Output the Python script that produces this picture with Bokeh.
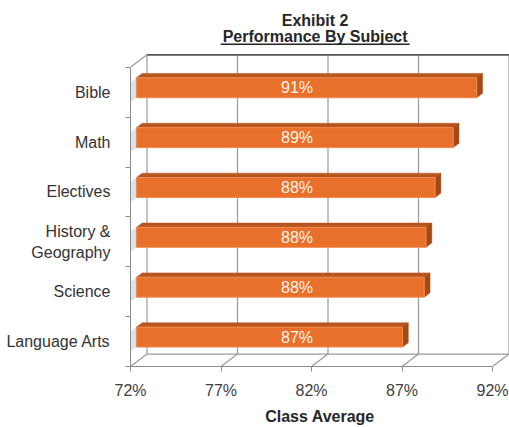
import numpy as np
from bokeh.plotting import figure
from bokeh.models import Range1d, FixedTicker, PrintfTickFormatter, CustomJSTickFormatter
from bokeh.core.properties import value
from bokeh.embed import file_html
from bokeh.resources import INLINE

# ---------------- data ----------------
subjects = ["Language Arts", "Science", "History &\nGeography", "Electives", "Math", "Bible"]
class_average = [86.7, 87.9, 88.0, 88.5, 89.5, 90.8]
value_labels = ["87%", "88%", "88%", "88%", "89%", "91%"]
x_ticks = [72, 77, 82, 87, 92]
title_1 = "Exhibit 2"
title_2 = "Performance By Subject"
x_title = "Class Average"

# ---------------- layout / style ----------------
FONT = "Liberation Sans"
W, H = 509, 427
BL, BB = 130, 60
FW, FH = W - BL, H - BB
PX_X, PX_Y = 18.1, 50.0          # pixels per data unit
X0, X1 = x_ticks[0], x_ticks[-1]
N = len(subjects)
DX, DY = 16.5 / PX_X, 12.5 / PX_Y  # full depth of the 3-D box, in data units
D0, D1 = 0.36, 0.71              # front / back depth of the bars
BAR_H = 20 / PX_Y
LABEL_X = 81.2
TITLE_X = 82.2
WALL = "#9a9a9a"
AXIS = "#8c8c8c"
FRONT = "#E8702A"
TOP = "#B9561F"
SIDE = "#9E4A1B"

p = figure(width=W, height=H,
           x_range=Range1d(X0, X0 + FW / PX_X), y_range=Range1d(0, FH / PX_Y),
           output_backend="svg", toolbar_location=None,
           min_border_left=BL, min_border_right=0, min_border_top=0, min_border_bottom=BB)
p.outline_line_color = None
p.grid.visible = False
p.background_fill_color = "white"
p.border_fill_color = "white"

xt = np.array(x_ticks, dtype=float)
nt = len(xt)

# back wall gridlines
p.segment(x0=xt + DX, y0=[DY] * nt, x1=xt + DX, y1=[N + DY] * nt, line_color=WALL, line_width=1.2)
# floor depth lines
p.segment(x0=xt, y0=[0] * nt, x1=xt + DX, y1=[DY] * nt, line_color=WALL, line_width=1.2)
# floor back edge
p.segment(x0=[X0 + DX], y0=[DY], x1=[X1 + DX], y1=[DY], line_color=WALL, line_width=1.2)
# left wall top diagonal
p.segment(x0=[X0], y0=[N], x1=[X0 + DX], y1=[N + DY], line_color=WALL, line_width=1.2)
# back wall top edge
p.segment(x0=[X0 + DX], y0=[N + DY], x1=[X1 + DX], y1=[N + DY], line_color="#555555", line_width=1.6)

# bars
c = np.arange(N) + 0.5
v = np.array(class_average)
l0, l1 = X0 + D0 * DX, X0 + D1 * DX
r0, r1 = v + D0 * DX, v + D1 * DX
b0, t0 = c - BAR_H / 2 + D0 * DY, c + BAR_H / 2 + D0 * DY
b1, t1 = c - BAR_H / 2 + D1 * DY, c + BAR_H / 2 + D1 * DY

# faint shading on the left wall
p.patches(xs=[[X0, X0, X0 + D1 * DX, X0 + D1 * DX] for _ in c],
          ys=[[bb - BAR_H / 2, bb + BAR_H / 2, bb + BAR_H / 2 + D1 * DY, bb - BAR_H / 2 + D1 * DY] for bb in c],
          fill_color="#bdbdbd", fill_alpha=0.45, line_color=None)

p.patches(xs=[[l0, r0[i], r1[i], l1] for i in range(N)],
          ys=[[t0[i], t0[i], t1[i], t1[i]] for i in range(N)],
          fill_color=TOP, line_color=TOP, line_width=0.5)
p.patches(xs=[[r0[i], r0[i], r1[i], r1[i]] for i in range(N)],
          ys=[[b0[i], t0[i], t1[i], b1[i]] for i in range(N)],
          fill_color=SIDE, line_color=SIDE, line_width=0.5)
p.quad(left=[l0] * N, right=r0, bottom=b0, top=t0,
       fill_color=FRONT, line_color="#F08A4E", line_width=1)

p.text(x=[LABEL_X] * N, y=c + D0 * DY, text=value_labels,
       text_align="center", text_baseline="middle",
       text_font=value(FONT), text_font_size="16px", text_color="#FFF6EE")

# title
y_top = FH / PX_Y
p.text(x=[TITLE_X], y=[y_top - 20.5 / PX_Y], text=[title_1], text_align="center",
       text_baseline="middle", text_font=value(FONT), text_font_style="bold",
       text_font_size="16px", text_color="#262626")
p.text(x=[TITLE_X], y=[y_top - 36.3 / PX_Y], text=[title_2], text_align="center",
       text_baseline="middle", text_font=value(FONT), text_font_style="bold",
       text_font_size="16px", text_color="#262626")
half = 94.5 / PX_X
p.segment(x0=[TITLE_X - half], y0=[y_top - 43.8 / PX_Y], x1=[TITLE_X + half], y1=[y_top - 43.8 / PX_Y],
          line_color="#262626", line_width=1.5)

# axes
xa = p.xaxis[0]
xa.ticker = FixedTicker(ticks=x_ticks)
xa.formatter = PrintfTickFormatter(format="%d%%")
xa.bounds = (X0, X1)
xa.axis_line_color = AXIS
xa.major_tick_line_color = AXIS
xa.major_tick_out = 5
xa.major_tick_in = 0
xa.minor_tick_line_color = None
xa.major_label_text_font = FONT
xa.major_label_text_font_size = "16px"
xa.major_label_text_color = "#404040"
xa.major_label_standoff = 10
xa.axis_label = x_title
xa.axis_label_text_font = FONT
xa.axis_label_text_font_style = "bold"
xa.axis_label_text_font_size = "16px"
xa.axis_label_text_color = "#262626"
xa.axis_label_standoff = 6

ya = p.yaxis[0]
ya.ticker = FixedTicker(ticks=list(c), minor_ticks=list(range(N + 1)))
ya.formatter = CustomJSTickFormatter(args=dict(names=subjects),
                                     code="return names[Math.floor(tick)] ?? ''")
ya.bounds = (0, N)
ya.axis_line_color = AXIS
ya.major_tick_out = 0
ya.major_tick_in = 0
ya.minor_tick_out = 5
ya.minor_tick_in = 0
ya.minor_tick_line_color = AXIS
ya.major_label_text_font = FONT
ya.major_label_text_font_size = "16px"
ya.major_label_text_color = "#333333"
ya.major_label_standoff = 15

open("out.html", "w").write(file_html(p, INLINE))
